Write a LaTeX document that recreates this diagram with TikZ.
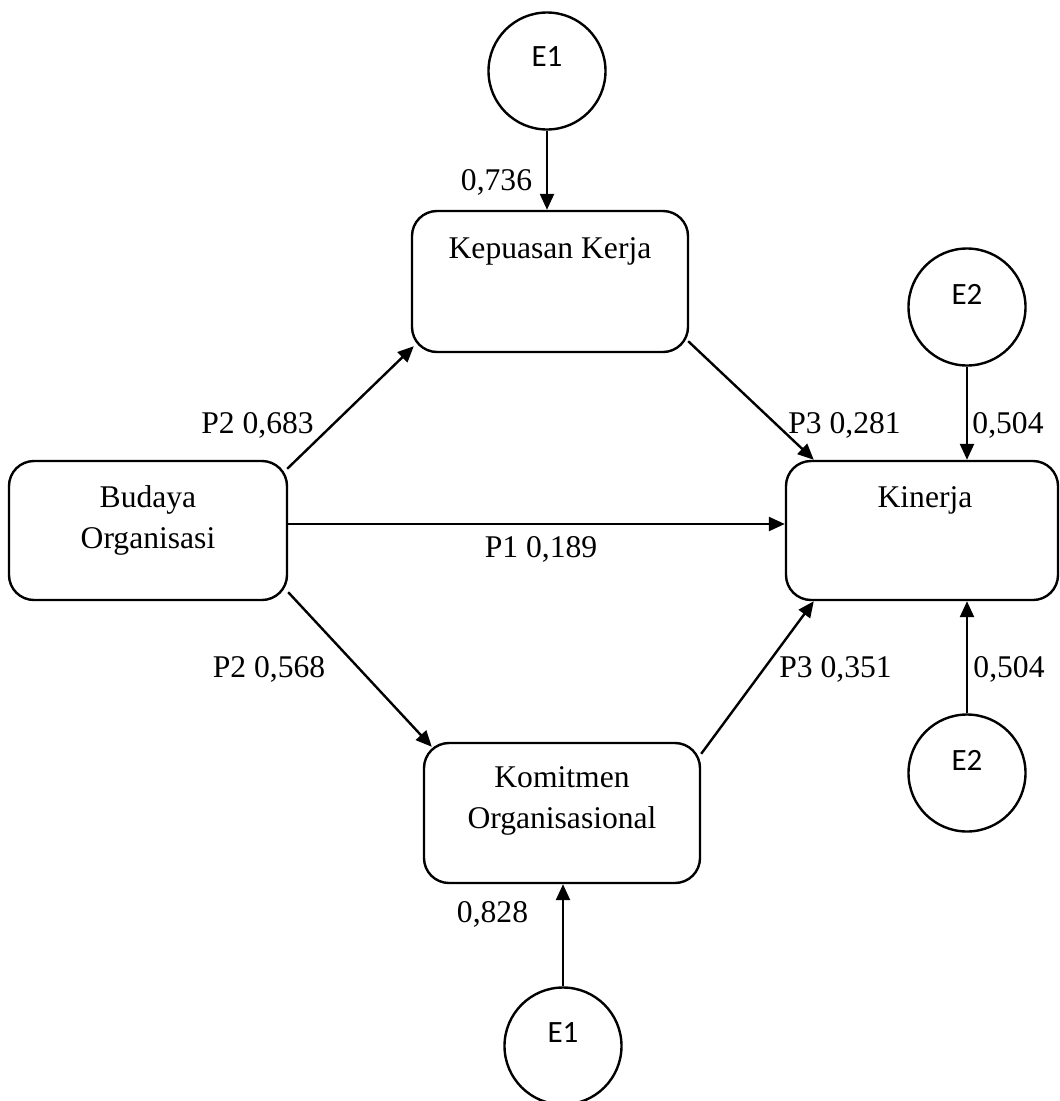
\documentclass[tikz,border=0pt]{standalone}
\usepackage{fontspec}
\setmainfont{Liberation Serif}
\newfontfamily\errfont{Carlito}
\usetikzlibrary{arrows.meta}
\begin{document}
\begin{tikzpicture}[x=1pt,y=-1pt,
  box/.style={draw,line width=2.4pt,rounded corners=25pt,inner sep=0pt},
  errc/.style={draw,line width=2.4pt,circle,minimum size=117pt,inner sep=0pt},
  etext/.style={font=\errfont\fontsize{31}{34}\selectfont,inner sep=0pt},
  btext/.style={font=\fontsize{31.6}{40.5}\selectfont,inner sep=0pt,align=center,anchor=base},
  lbl/.style={font=\fontsize{31.6}{38}\selectfont,inner sep=0pt,anchor=base},
  arr/.style={line width=2.4pt,-{Triangle[length=16pt,width=14pt]}}]
\useasboundingbox (0,0) rectangle (1060,1101);
% boxes
\node[box,minimum width=276pt,minimum height=141pt] (kep) at (550,281.5) {};
\node[box,minimum width=278pt,minimum height=139pt] (bud) at (148,530.5) {};
\node[box,minimum width=272pt,minimum height=139pt] (kin) at (922,530.5) {};
\node[box,minimum width=276pt,minimum height=140pt] (kom) at (562,813) {};
% box texts
\node[btext] (kept) at (550,258) {Kepuasan Kerja};
\node[btext] (budt) at (148,548) {Budaya\\Organisasi};
\node[btext] (kint) at (925,507) {Kinerja};
\node[btext] (komt) at (562,828) {Komitmen\\Organisasional};
% error circles
\node[errc] (e1t) at (547,71) {};
\node[etext] (e1tl) at (547,57) {E1};
\node[errc] (e2t) at (967,307) {};
\node[etext] (e2tl) at (967,294) {E2};
\node[errc] (e2b) at (967,773) {};
\node[etext] (e2bl) at (967,760) {E2};
\node[errc] (e1b) at (563,1046) {};
\node[etext] (e1bl) at (563,1033) {E1};
% connectors
\draw[arr] (e1t.south) -- (e1t.south |- kep.north);
\draw[arr] (e2t.south) -- (e2t.south |- kin.north);
\draw[arr] (e2b.north) -- (e2b.north |- kin.south);
\draw[arr] (e1b.north) -- (e1b.north |- kom.south);
\draw[arr] ([xshift=-1pt,yshift=-9pt]bud.north east) -- ([xshift=3pt,yshift=7pt]kep.south west);
\draw[arr] ([xshift=-1pt,yshift=12pt]kep.south east) -- ([xshift=29pt]kin.north west);
\draw[arr] ([yshift=6.5pt]bud.east) -- ([yshift=6.5pt]kin.west);
\draw[arr] ([yshift=9pt]bud.south east) -- ([xshift=9pt,yshift=-5pt]kom.north west);
\draw[arr] ([yshift=-12pt]kom.north east) -- ([xshift=29pt]kin.south west);
% labels
\node[lbl] (l1) at (496.5,190.5) {0,736};
\node[lbl] (l2) at (257.5,433.5) {P2 0,683};
\node[lbl] (l3) at (844.5,433.5) {P3 0,281};
\node[lbl] (l4) at (1008,433.5) {0,504};
\node[lbl] (l5) at (541,557.5) {P1 0,189};
\node[lbl] (l6) at (269,677.5) {P2 0,568};
\node[lbl] (l7) at (835.5,677.5) {P3 0,351};
\node[lbl] (l8) at (1009,677.5) {0,504};
\node[lbl] (l9) at (492.5,922.5) {0,828};
\end{tikzpicture}
\end{document}
